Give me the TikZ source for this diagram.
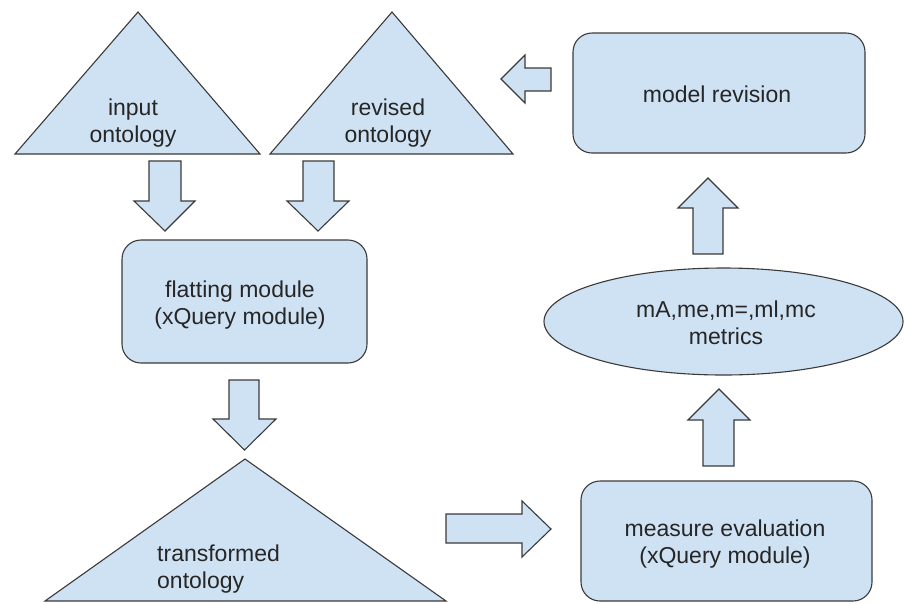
\documentclass[tikz,border=0pt]{standalone}
\usepackage{fontspec}
\setmainfont{Liberation Sans}
\usetikzlibrary{shapes.geometric}
\definecolor{fillblue}{HTML}{CFE2F3}
\definecolor{edgegray}{HTML}{3A3A3A}
\begin{document}
\begin{tikzpicture}[x=1pt,y=-1pt,
  shp/.style={fill=fillblue,draw=edgegray,line width=1.1pt,line join=miter},
  boxnode/.style={shp,rounded corners=19pt,inner sep=0pt},
  ellnode/.style={shp,ellipse,inner sep=0pt},
  lbl/.style={font=\fontsize{23}{27}\selectfont,align=center,inner sep=0pt,text=black!85}]
\useasboundingbox (0,0) rectangle (904,603);
% triangles
\draw[shp] (15,154) -- (138,12) -- (260,154) -- cycle;
\draw[shp] (270,154) -- (392,12) -- (513,154) -- cycle;
\draw[shp] (45,601) -- (245,459) -- (446,601) -- cycle;
% boxes
\node[boxnode,minimum width=245pt,minimum height=123pt] (flat) at (244.5,301.5) {};
\node[boxnode,minimum width=292pt,minimum height=120pt] (model) at (719,93) {};
\node[boxnode,minimum width=291pt,minimum height=120pt] (measure) at (726.5,541) {};
\node[ellnode,minimum width=359pt,minimum height=107pt] (metrics) at (723.5,321.5) {};
% labels
\node[lbl] (tin) at (133,123) {input\\ontology};
\node[lbl] (trev) at (388,123) {revised\\ontology};
\node[lbl] (tflat) at (240,305) {flatting module\\(xQuery module)};
\node[lbl,align=left,anchor=west] (ttrans) at (157,569.5) {transformed\\ontology};
\node[lbl,anchor=base] (tmodel) at (717,102) {model revision};
\node[lbl] (tmet) at (726,322.5) {mA,me,m=,ml,mc\\metrics};
\node[lbl] (tmeas) at (725,544.3) {measure evaluation\\(xQuery module)};
% block arrows
\draw[shp] (149,161) -- (181,161) -- (181,201) -- (195,201) -- (165,231) -- (134,201) -- (149,201) -- cycle;
\draw[shp] (303,161) -- (334,161) -- (334,201) -- (349,201) -- (318,231) -- (287,201) -- (303,201) -- cycle;
\draw[shp] (229,380) -- (259,380) -- (259,419) -- (276,419) -- (244.5,450) -- (213,419) -- (229,419) -- cycle;
\draw[shp] (551,68) -- (551,91) -- (525,91) -- (525,103) -- (501,79) -- (525,55) -- (525,68) -- cycle;
\draw[shp] (693,254) -- (723,254) -- (723,208) -- (738,208) -- (708,178) -- (678,208) -- (693,208) -- cycle;
\draw[shp] (703,466) -- (734,466) -- (734,420) -- (750,420) -- (719,389) -- (688,420) -- (703,420) -- cycle;
\draw[shp] (446,514) -- (522,514) -- (522,501) -- (551,529) -- (522,557) -- (522,543) -- (446,543) -- cycle;
\end{tikzpicture}
\end{document}
